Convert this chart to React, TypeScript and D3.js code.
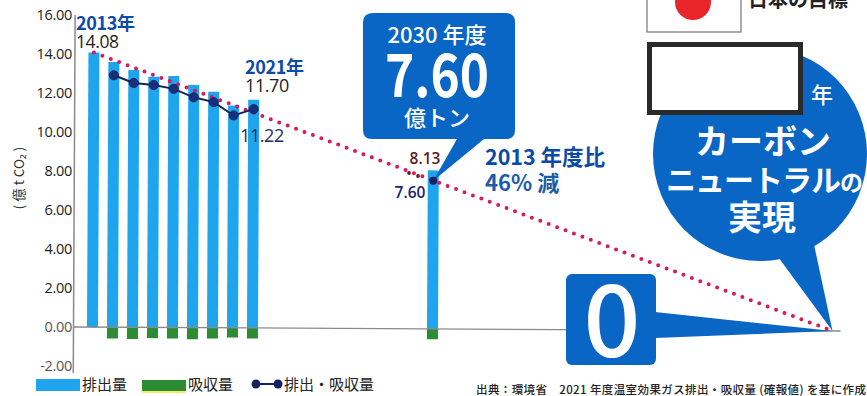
import React from "react";
import * as d3 from "d3";

// Annual greenhouse gas figures, in hundred-million tonnes of CO2
const emissionYears = [2013, 2014, 2015, 2016, 2017, 2018, 2019, 2020, 2021];
const emissionValues = [14.08, 13.6, 13.2, 12.85, 12.9, 12.45, 12.1, 11.4, 11.7];
const absorptionYears = [2014, 2015, 2016, 2017, 2018, 2019, 2020, 2021];
const absorptionValues = [-0.58, -0.6, -0.55, -0.56, -0.6, -0.55, -0.5, -0.54];
const netYears = [2014, 2015, 2016, 2017, 2018, 2019, 2020, 2021];
const netValues = [12.92, 12.53, 12.43, 12.24, 11.81, 11.57, 10.89, 11.22];
const targetYear = 2030;
const targetEmission = 8.13;
const targetAbsorption = -0.53;
const targetNet = 7.6;
const neutralYear = 2050;
const yTicks = [16, 14, 12, 10, 8, 6, 4, 2, 0, -2];

const WIDTH = 867;
const HEIGHT = 396;
const BLUE = "#0a66c4";
const BAR = "#1ea5ee";
const GREEN = "#2b8c34";
const NAVY = "#16215f";
const DOTS = "#d8195c";
const AXIS = "#8a8a8a";
const JP = "'Noto Sans CJK JP', 'Noto Sans', sans-serif";
const LATIN = "'Open Sans', 'Noto Sans CJK JP', sans-serif";

const x = d3.scaleLinear().domain([2013, 2050]).range([92.5, 832.5]);
const y = d3.scaleLinear().domain([-2, 16]).range([366, 15]);

// The plotted area sits on a very slight clockwise tilt around the axis origin
const TILT = 0.3;
const originX = 73.5;
const originY = y(0);
const project = (year: number, value: number): [number, number] => {
  const a = (TILT * Math.PI) / 180;
  const dx = x(year) - originX;
  const dy = y(value) - originY;
  return [
    originX + dx * Math.cos(a) - dy * Math.sin(a),
    originY + dx * Math.sin(a) + dy * Math.cos(a),
  ];
};

const netLine = d3
  .line<number>()
  .x((_, i) => x(netYears[i]))
  .y((v) => y(v));

const BAR_W = 11;

export default function App() {
  const [tx2030, ty2030] = project(targetYear, targetNet);
  const [tx2050, ty2050] = project(neutralYear, 0);

  return (
    <svg
      width={WIDTH}
      height={HEIGHT}
      viewBox={`0 0 ${WIDTH} ${HEIGHT}`}
      style={{ position: "absolute", left: 0, top: 0, background: "#fff" }}
    >
      {/* Flag and heading, running off the top edge */}
      <rect x={647} y={-30} width={94} height={62} fill="#fff" stroke="#777" strokeWidth={1.2} />
      <circle cx={693} cy={2} r={18} fill="#e8262a" />
      <text x={748} y={7} fontFamily={JP} fontWeight={700} fontSize={20} fill="#222">
        日本の目標
      </text>

      {/* Tick labels */}
      {yTicks.map((t) => (
        <text
          key={t}
          x={72}
          y={y(t)}
          dy="0.36em"
          textAnchor="end"
          fontFamily={LATIN}
          fontSize={14.5}
          letterSpacing={-0.3}
          fill={t <= 0 ? "#555" : "#222"}
        >
          {t.toFixed(2)}
        </text>
      ))}
      <text
        transform="translate(19,178) rotate(-90)"
        textAnchor="middle"
        dy="0.36em"
        fontFamily={JP}
        fontSize={13.5}
        fill="#333"
      >
        ( 億 t CO₂ )
      </text>

      {/* Plot marks */}
      <g transform={`rotate(${TILT} ${originX} ${originY})`}>
        {emissionYears.map((yr, i) => (
          <rect
            key={yr}
            x={x(yr) - BAR_W / 2}
            y={y(emissionValues[i])}
            width={BAR_W}
            height={y(0) - y(emissionValues[i])}
            fill={BAR}
          />
        ))}
        <rect
          x={x(targetYear) - BAR_W / 2}
          y={y(targetEmission)}
          width={BAR_W}
          height={y(0) - y(targetEmission)}
          fill={BAR}
        />
        {absorptionYears.map((yr, i) => (
          <rect
            key={yr}
            x={x(yr) - BAR_W / 2}
            y={y(0)}
            width={BAR_W}
            height={y(absorptionValues[i]) - y(0)}
            fill={GREEN}
          />
        ))}
        <rect
          x={x(targetYear) - BAR_W / 2}
          y={y(0)}
          width={BAR_W}
          height={y(targetAbsorption) - y(0)}
          fill={GREEN}
        />
        <line x1={originX} x2={originX} y1={y(16)} y2={y(-2) + 7} stroke={AXIS} strokeWidth={1.5} />
        <line x1={originX} x2={x(neutralYear) + 8} y1={y(0)} y2={y(0)} stroke={AXIS} strokeWidth={1.3} />
      </g>

      {/* Callout for the 2030 target */}
      <path
        d={`M374 13 H506 Q515 13 515 22 V130 Q515 139 506 139 H484 L${tx2030} ${ty2030} L457 139 H372 Q363 139 363 130 V22 Q363 13 374 13 Z`}
        fill={BLUE}
      />
      <text x={437} y={35} dy="0.36em" textAnchor="middle" fontFamily={JP} fontWeight={500} fontSize={22} fill="#fff">
        2030 年度
      </text>
      <text
        x={437}
        y={75}
        dy="0.36em"
        textAnchor="middle"
        fontFamily={JP}
        fontWeight={700}
        fontSize={60}
        textLength={104}
        lengthAdjust="spacingAndGlyphs"
        fill="#fff"
      >
        7.60
      </text>
      <text x={437} y={118} dy="0.36em" textAnchor="middle" fontFamily={JP} fontWeight={500} fontSize={22} fill="#fff">
        億トン
      </text>

      {/* Zero box and its pointer */}
      <path d={`M655 312 L${tx2050} ${ty2050} L655 338 Z`} fill={BLUE} />
      <rect x={566} y={274} width={90} height={91} rx={6} fill={BLUE} />
      <text x={612} y={321} dy="0.36em" textAnchor="middle" fontFamily={JP} fontWeight={500} fontSize={100} fill="#fff">
        0
      </text>

      {/* Carbon-neutral speech bubble */}
      <path d={`M773 250 L812 235 L${tx2050} ${ty2050} Z`} fill={BLUE} />
      <circle cx={760} cy={154} r={107} fill={BLUE} />
      <rect x={649.5} y={44.5} width={151} height={68} fill="#fff" stroke="#2a2a2a" strokeWidth={5} />
      <text x={822} y={95} dy="0.36em" textAnchor="middle" fontFamily={JP} fontWeight={500} fontSize={22} fill="#fff">
        年
      </text>
      <text x={763} y={142} dy="0.36em" textAnchor="middle" fontFamily={JP} fontWeight={700} fontSize={34} fill="#fff">
        カーボン
      </text>
      <text x={666} y={180} dy="0.36em" fontFamily={JP} fontWeight={700} fontSize={30} letterSpacing={-1} fill="#fff">
        ニュートラル
        <tspan fontSize={23}>の</tspan>
      </text>
      <text x={762} y={218} dy="0.36em" textAnchor="middle" fontFamily={JP} fontWeight={700} fontSize={34} fill="#fff">
        実現
      </text>

      {/* Reduction path and net emissions, above the callouts */}
      <g transform={`rotate(${TILT} ${originX} ${originY})`}>
        <line
          x1={x(2013)}
          y1={y(emissionValues[0])}
          x2={x(neutralYear)}
          y2={y(0)}
          stroke={DOTS}
          strokeWidth={4}
          strokeLinecap="round"
          strokeDasharray="0 9"
        />
        <path d={netLine(netValues) ?? ""} fill="none" stroke={NAVY} strokeWidth={2} />
        {netYears.map((yr, i) => (
          <circle key={yr} cx={x(yr)} cy={y(netValues[i])} r={4.6} fill="#1b2f78" stroke={NAVY} strokeWidth={0.8} />
        ))}
        <circle cx={x(targetYear)} cy={y(targetNet)} r={4} fill={NAVY} />
      </g>

      {/* Leader dots beside the 8.13 label */}
      <circle cx={409} cy={173} r={1.9} fill="#6b1a22" />
      <circle cx={418} cy={176} r={1.9} fill="#6b1a22" />

      {/* Value labels */}
      <text x={76} y={24} dy="0.36em" fontFamily={JP} fontWeight={700} fontSize={18} letterSpacing={-0.4} fill="#0b4aa8">
        2013年
      </text>
      <text x={76} y={42} dy="0.36em" fontFamily={LATIN} fontSize={17.5} letterSpacing={-0.4} fill="#222">
        14.08
      </text>
      <text x={245} y={68} dy="0.36em" fontFamily={JP} fontWeight={700} fontSize={18} letterSpacing={-0.4} fill="#0b4aa8">
        2021年
      </text>
      <text x={245} y={86} dy="0.36em" fontFamily={LATIN} fontSize={18} letterSpacing={-0.4} fill="#222">
        11.70
      </text>
      <text x={240} y={136} dy="0.36em" fontFamily={LATIN} fontSize={18} letterSpacing={-0.4} fill="#1f2d66">
        11.22
      </text>
      <text x={425} y={158} dy="0.36em" textAnchor="middle" fontFamily={LATIN} fontWeight={600} fontSize={15.5} fill="#5a1c24">
        8.13
      </text>
      <text x={410} y={192} dy="0.36em" textAnchor="middle" fontFamily={LATIN} fontWeight={600} fontSize={15.5} fill="#1a2270">
        7.60
      </text>
      <text x={485} y={157} dy="0.36em" fontFamily={JP} fontWeight={700} fontSize={21.5} fill="#0b4aa8">
        2013 年度比
      </text>
      <text x={485} y={183} dy="0.36em" fontFamily={JP} fontWeight={700} fontSize={22} fill="#1a5ea8">
        46% 減
      </text>

      {/* Legend */}
      <rect x={36} y={379} width={44} height={12} fill={BAR} />
      <text x={82} y={384.5} dy="0.36em" fontFamily={JP} fontSize={15} fill="#222">排出量</text>
      <rect x={142} y={391} width={44} height={2} fill="#f2ee6a" />
      <rect x={142} y={380} width={44} height={11} fill={GREEN} />
      <text x={188} y={384.5} dy="0.36em" fontFamily={JP} fontSize={15} fill="#222">吸収量</text>
      <line x1={256} x2={278} y1={384} y2={384} stroke={NAVY} strokeWidth={2} />
      <circle cx={256} cy={384} r={4.5} fill={NAVY} />
      <circle cx={278} cy={384} r={4.5} fill={NAVY} />
      <text x={284} y={384.5} dy="0.36em" fontFamily={JP} fontSize={15} fill="#222">排出・吸収量</text>

      {/* Source note */}
      <text
        x={476}
        y={389.5}
        dy="0.36em"
        fontFamily={JP}
        fontWeight={500}
        fontSize={11.5}
        textLength={390}
        lengthAdjust="spacing"
        fill="#222"
      >
        出典：環境省　2021 年度温室効果ガス排出・吸収量 (確報値) を基に作成
      </text>
    </svg>
  );
}
